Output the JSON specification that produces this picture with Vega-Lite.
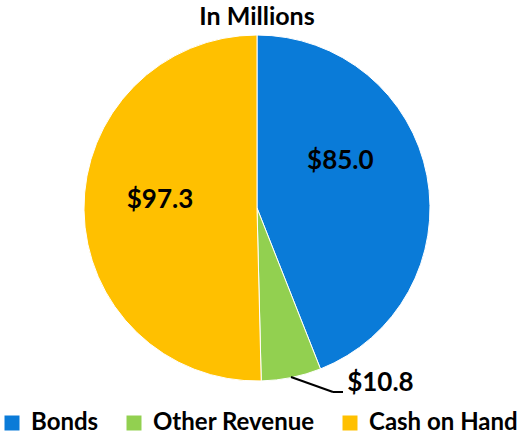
{
  "$schema": "https://vega.github.io/schema/vega-lite/v6.json",
  "width": 514,
  "height": 326,
  "autosize": "none",
  "padding": {"left": 0, "top": 45, "right": 7, "bottom": 64},
  "background": "white",
  "title": {"text": "In Millions", "font": "Lato", "fontSize": 25, "fontWeight": "bold", "color": "#000000", "anchor": "middle", "offset": 3},
  "data": {"values": [
    {"source": "Bonds", "amount": 85.0, "idx": 1},
    {"source": "Other Revenue", "amount": 10.8, "idx": 2},
    {"source": "Cash on Hand", "amount": 97.3, "idx": 3}
  ]},
  "layer": [
    {
      "mark": {"type": "arc", "outerRadius": 173, "stroke": "white", "strokeWidth": 1},
      "encoding": {
        "theta": {"field": "amount", "type": "quantitative", "stack": true},
        "order": {"field": "idx", "type": "quantitative"},
        "color": {
          "field": "source", "type": "nominal",
          "scale": {"domain": ["Bonds", "Other Revenue", "Cash on Hand"], "range": ["#0A7BD8", "#92D050", "#FFC000"]},
          "legend": {"title": null, "orient": "bottom", "direction": "horizontal", "offset": 40, "symbolType": "square", "symbolSize": 225, "symbolStrokeWidth": 0, "labelFont": "Lato", "labelFontSize": 24, "labelFontWeight": "bold", "labelColor": "#000000", "labelOffset": 7, "columnPadding": 23, "padding": 0, "labelLimit": 300}
        }
      }
    },
    {
      "mark": {"type": "text", "radius": 96, "dx": -11, "dy": -29, "font": "Lato", "fontSize": 26, "fontWeight": "bold", "color": "#000000"},
      "encoding": {
        "theta": {"field": "amount", "type": "quantitative", "stack": true},
        "order": {"field": "idx", "type": "quantitative"},
        "text": {"condition": {"test": "datum.source === 'Bonds'", "field": "amount", "type": "quantitative", "format": "$.1f"}, "value": ""}
      }
    },
    {
      "mark": {"type": "text", "radius": 92, "dx": -5, "dy": -9, "font": "Lato", "fontSize": 26, "fontWeight": "bold", "color": "#000000"},
      "encoding": {
        "theta": {"field": "amount", "type": "quantitative", "stack": true},
        "order": {"field": "idx", "type": "quantitative"},
        "text": {"condition": {"test": "datum.source === 'Cash on Hand'", "field": "amount", "type": "quantitative", "format": "$.1f"}, "value": ""}
      }
    },
    {
      "mark": {"type": "text", "radius": 172, "dx": 56, "dy": 6, "align": "left", "font": "Lato", "fontSize": 26, "fontWeight": "bold", "color": "#000000"},
      "encoding": {
        "theta": {"field": "amount", "type": "quantitative", "stack": true},
        "order": {"field": "idx", "type": "quantitative"},
        "text": {"condition": {"test": "datum.source === 'Other Revenue'", "field": "amount", "type": "quantitative", "format": "$.1f"}, "value": ""}
      }
    },
    {
      "data": {"values": [{"k": 1}]},
      "mark": {"type": "rule", "color": "#000000", "strokeWidth": 2},
      "encoding": {"x": {"value": 291}, "y": {"value": 332}, "x2": {"value": 333}, "y2": {"value": 347}}
    },
    {
      "data": {"values": [{"k": 1}]},
      "mark": {"type": "rule", "color": "#000000", "strokeWidth": 2},
      "encoding": {"x": {"value": 333}, "y": {"value": 347}, "x2": {"value": 343}, "y2": {"value": 347}}
    }
  ],
  "config": {"view": {"stroke": null}}
}
